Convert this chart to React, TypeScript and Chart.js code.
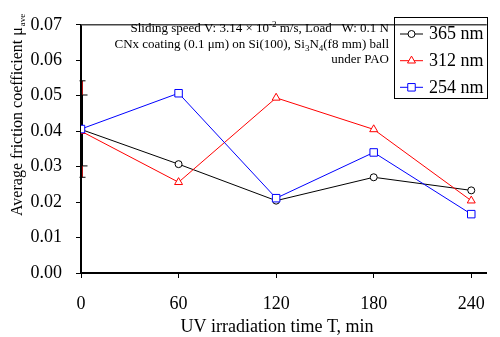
import { useEffect, useRef } from 'react';
import { Chart, registerables } from 'chart.js';

Chart.register(...registerables);

const FONT = '"Liberation Serif", "Times New Roman", Times, serif';

// ---- data ----
const times = [0, 60, 120, 180, 240];
const mu365 = [0.0405, 0.0307, 0.0204, 0.027, 0.0233];
const mu312 = [0.04, 0.0256, 0.0494, 0.0405, 0.0204];
const mu254 = [0.0406, 0.0507, 0.0211, 0.034, 0.0166];
const seriesLabels = ['365 nm', '312 nm', '254 nm'];

const xTicks = [0, 60, 120, 180, 240];
const xTickLabels = ['0', '60', '120', '180', '240'];
const yTicks = [0, 0.01, 0.02, 0.03, 0.04, 0.05, 0.06, 0.07];
const yTickLabels = ['0.00', '0.01', '0.02', '0.03', '0.04', '0.05', '0.06', '0.07'];

// error bars at T = 0
const errX = [0, 0];
const errLow = [0.027, 0.0302];
const errHigh = [0.0542, 0.0502];

const xTitle = 'UV irradiation time T, min';
const yTitle = 'Average friction coefficient μ';
const yTitleSub = 'ave';

// ---- styles ----
const colors = ['#000000', '#ff0000', '#0000ff'];
const pointStyles = ['circle', 'triangle', 'rect'];
const pointRadii = [3.5, 4.6, 5.3];
const errColors = ['#b01010', '#000000'];

type Seg = { t: string; k?: 'sub' | 'sup' };
const noteLines: Seg[][] = [
  [{ t: 'Sliding speed V: 3.14 × 10' }, { t: '-2', k: 'sup' }, { t: ' m/s, Load   W: 0.1 N' }],
  [
    { t: 'CNx coating (0.1 μm) on Si(100), Si' },
    { t: '3', k: 'sub' },
    { t: 'N' },
    { t: '4', k: 'sub' },
    { t: '(f8 mm) ball' },
  ],
  [{ t: 'under PAO' }],
];

function drawMarker(ctx: CanvasRenderingContext2D, style: string, r: number, x: number, y: number, color: string) {
  ctx.save();
  ctx.beginPath();
  if (style === 'circle') {
    ctx.arc(x, y, r, 0, Math.PI * 2);
  } else if (style === 'triangle') {
    let rad = 0;
    ctx.moveTo(x + Math.sin(rad) * r, y - Math.cos(rad) * r);
    rad += (2 * Math.PI) / 3;
    ctx.lineTo(x + Math.sin(rad) * r, y - Math.cos(rad) * r);
    rad += (2 * Math.PI) / 3;
    ctx.lineTo(x + Math.sin(rad) * r, y - Math.cos(rad) * r);
    ctx.closePath();
  } else {
    const s = Math.SQRT1_2 * r;
    ctx.rect(x - s, y - s, 2 * s, 2 * s);
  }
  ctx.fillStyle = '#ffffff';
  ctx.fill();
  ctx.strokeStyle = color;
  ctx.lineWidth = 1;
  ctx.stroke();
  ctx.restore();
}

const errorBarPlugin = {
  id: 'errorBars',
  beforeDatasetsDraw(chart: any) {
    const { ctx, scales } = chart;
    const xs = scales.x;
    const ys = scales.y;
    ctx.save();
    for (let i = 0; i < errX.length; i++) {
      const px = xs.getPixelForValue(errX[i]) + 1.5;
      const y1 = ys.getPixelForValue(errLow[i]);
      const y2 = ys.getPixelForValue(errHigh[i]);
      ctx.strokeStyle = errColors[i];
      ctx.lineWidth = 1;
      ctx.beginPath();
      ctx.moveTo(px, y1);
      ctx.lineTo(px, y2);
      ctx.stroke();
      ctx.strokeStyle = '#000';
      ctx.beginPath();
      const l = i === 0 ? -3 : 0;
      const r = i === 0 ? 3 : 5;
      ctx.moveTo(px + l, y1);
      ctx.lineTo(px + r, y1);
      ctx.moveTo(px + l, y2);
      ctx.lineTo(px + r, y2);
      ctx.stroke();
    }
    ctx.restore();
  },
};

const decorPlugin = {
  id: 'decor',
  afterDraw(chart: any) {
    const { ctx, chartArea } = chart;
    ctx.save();
    // top frame line
    ctx.strokeStyle = '#444';
    ctx.lineWidth = 1.5;
    ctx.beginPath();
    ctx.moveTo(chartArea.left, chartArea.top);
    ctx.lineTo(chartArea.right, chartArea.top);
    ctx.stroke();

    ctx.fillStyle = '#000';
    // x title
    ctx.font = `18px ${FONT}`;
    ctx.textAlign = 'center';
    ctx.textBaseline = 'alphabetic';
    ctx.fillText(xTitle, 277, 332);

    // y title
    ctx.save();
    ctx.translate(22, 216);
    ctx.rotate(-Math.PI / 2);
    ctx.textAlign = 'left';
    ctx.font = `16px ${FONT}`;
    ctx.fillText(yTitle, 0, 0);
    const w = ctx.measureText(yTitle).width;
    ctx.font = `9px ${FONT}`;
    ctx.fillText(yTitleSub, w + 1, 3);
    ctx.restore();

    // annotation
    const rightX = 389;
    const baselines = [32, 47.5, 62.5];
    const base = 13;
    const small = 9;
    ctx.textAlign = 'left';
    noteLines.forEach((line, li) => {
      let total = 0;
      line.forEach((s) => {
        ctx.font = `${s.k ? small : base}px ${FONT}`;
        total += ctx.measureText(s.t).width;
      });
      let x = rightX - total;
      line.forEach((s) => {
        ctx.font = `${s.k ? small : base}px ${FONT}`;
        const dy = s.k === 'sup' ? -5 : s.k === 'sub' ? 3 : 0;
        ctx.fillText(s.t, x, baselines[li] + dy);
        x += ctx.measureText(s.t).width;
      });
    });

    // legend
    ctx.strokeStyle = '#000';
    ctx.lineWidth = 1;
    ctx.strokeRect(394.5, 17.5, 93, 81);
    const rows = [34, 60.7, 87.3];
    seriesLabels.forEach((lab, i) => {
      const y = rows[i];
      ctx.strokeStyle = colors[i];
      ctx.lineWidth = 1;
      ctx.beginPath();
      ctx.moveTo(400, y);
      ctx.lineTo(423, y);
      ctx.stroke();
      drawMarker(ctx, pointStyles[i], pointRadii[i], 411.5, y, colors[i]);
      ctx.fillStyle = '#000';
      ctx.font = `18px ${FONT}`;
      ctx.textAlign = 'left';
      ctx.textBaseline = 'middle';
      ctx.fillText(lab, 429, y + 0.5);
    });
    ctx.restore();
  },
};

export default function App() {
  const ref = useRef<HTMLCanvasElement>(null);
  useEffect(() => {
    const all = [mu365, mu312, mu254];
    const chart = new Chart(ref.current as HTMLCanvasElement, {
      type: 'line',
      data: {
        datasets: all.map((vals, i) => ({
          label: seriesLabels[i],
          data: times.map((t, j) => ({ x: t, y: vals[j] })),
          borderColor: colors[i],
          backgroundColor: '#ffffff',
          borderWidth: 1,
          pointStyle: pointStyles[i] as any,
          pointRadius: pointRadii[i],
          pointBorderWidth: 1,
          pointBorderColor: colors[i],
          pointBackgroundColor: '#ffffff',
          tension: 0,
          order: 2 - i,
        })),
      },
      options: {
        responsive: false,
        animation: false,
        devicePixelRatio: 1,
        layout: { padding: { top: 12, right: 0, bottom: 0, left: 0 } },
        plugins: { legend: { display: false }, tooltip: { enabled: false } },
        scales: {
          x: {
            type: 'linear',
            min: 0,
            max: 249.5,
            afterBuildTicks: (s: any) => {
              s.ticks = xTicks.map((v) => ({ value: v }));
            },
            afterFit: (s: any) => {
              s.height = 64;
            },
            grid: { display: true, drawOnChartArea: false, drawTicks: true, tickLength: 5, color: '#000', lineWidth: 1 },
            border: { display: true, color: '#000', width: 2 },
            ticks: {
              font: { family: FONT, size: 18 },
              color: '#000',
              padding: 15,
              maxRotation: 0,
              autoSkip: false,
              callback: (_v: any, i: number) => xTickLabels[i],
            },
          },
          y: {
            type: 'linear',
            min: 0,
            max: 0.07,
            afterBuildTicks: (s: any) => {
              s.ticks = yTicks.map((v) => ({ value: v }));
            },
            afterFit: (s: any) => {
              s.width = 81;
            },
            grid: { display: true, drawOnChartArea: false, drawTicks: true, tickLength: 5, color: '#000', lineWidth: 1 },
            border: { display: true, color: '#000', width: 2 },
            ticks: {
              font: { family: FONT, size: 18 },
              color: '#000',
              padding: 14,
              autoSkip: false,
              callback: (_v: any, i: number) => yTickLabels[i],
            },
          },
        },
      },
      plugins: [errorBarPlugin, decorPlugin],
    });
    return () => chart.destroy();
  }, []);
  return (
    <div style={{ position: 'absolute', left: 0, top: 0, width: 500, height: 337 }}>
      <canvas ref={ref} width={500} height={337} style={{ display: 'block' }} />
    </div>
  );
}
